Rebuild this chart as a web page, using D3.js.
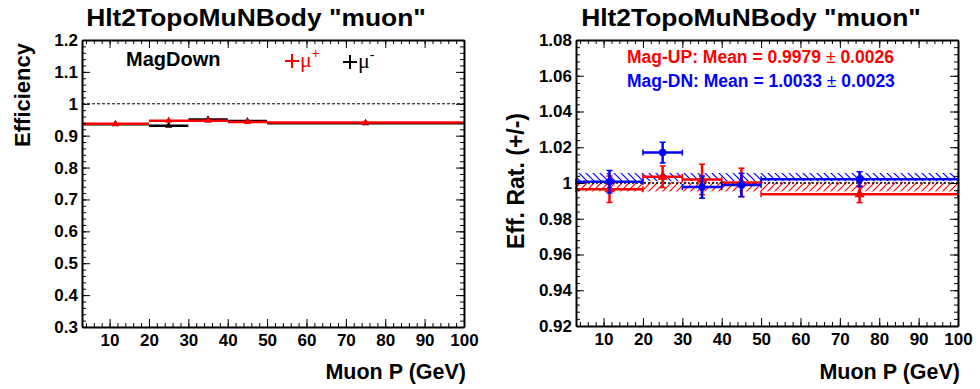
<!DOCTYPE html>
<html>
<head>
<meta charset="utf-8">
<script src="https://cdn.jsdelivr.net/npm/d3@7"></script>
<style>
  body { margin: 0; background: #fff; }
  svg { display: block; font-family: "Liberation Sans", Arial, Helvetica, sans-serif; }
  .axis path { stroke: #000; stroke-width: 2; }
  .axis line { stroke: #000; stroke-width: 1; }
  .axis text { font-size: 17px; font-weight: bold; fill: #000; }
</style>
</head>
<body>
<svg width="980" height="389"></svg>
<script>
// bins in muon momentum (GeV)
var binLo = [3, 20, 30, 40, 50],
    binHi = [20, 30, 40, 50, 100],
    binMid = [11.5, 25, 35, 45, 75];

// left pad: efficiency, MagDown
var effPlus = [0.937, 0.947, 0.947, 0.943, 0.941],
    effPlusErr = [0.002, 0.002, 0.002, 0.002, 0.001],
    effMinus = [0.936, 0.931, 0.951, 0.946, 0.939],
    effMinusErr = [0.002, 0.002, 0.002, 0.002, 0.001];

// right pad: efficiency ratio (+/-)
var ratioUp = [0.9965, 1.0035, 1.0020, 1.0003, 0.9937],
    ratioUpErr = [0.0074, 0.0060, 0.0085, 0.0080, 0.0047],
    ratioDn = [1.0007, 1.0170, 0.9977, 0.9989, 1.0021],
    ratioDnErr = [0.0063, 0.0058, 0.0062, 0.0065, 0.0042];

var meanUp = 0.9979, meanUpErr = 0.0026,
    meanDn = 1.0033, meanDnErr = 0.0023;

var xMajor = [10, 20, 30, 40, 50, 60, 70, 80, 90, 100],
    effTicks = [0.3, 0.4, 0.5, 0.6, 0.7, 0.8, 0.9, 1, 1.1, 1.2],
    ratioTicks = [0.92, 0.94, 0.96, 0.98, 1, 1.02, 1.04, 1.06, 1.08];

var svg = d3.select("svg");

var defs = svg.append("defs");
function hatch(id, color, dir) {
    var p = defs.append("pattern")
        .attr("id", id)
        .attr("patternUnits", "userSpaceOnUse")
        .attr("width", 7).attr("height", 7);
    p.append("path")
        .attr("d", dir > 0 ? "M0,7L7,0M-1,1L1,-1M6,8L8,6" : "M0,0L7,7M-1,6L1,8M6,-1L8,1")
        .attr("stroke", color).attr("stroke-width", 1.2);
}
hatch("hatchRed", "#ff0000", 1);
hatch("hatchBlue", "#0000ff", -1);

function range(a, b, s) {
    var out = [];
    for (var v = a; v <= b + s / 1000; v += s) out.push(+v.toFixed(4));
    return out;
}

function frame(x, y, yMajor, yMinorStep, yFmt) {
    var x0 = x.range()[0], x1 = x.range()[1],
        y0 = y.range()[0], y1 = y.range()[1];
    var g = svg.append("g");
    var xMinor = range(4, 100, 2), yMinor = range(y.domain()[0], y.domain()[1], yMinorStep);

    // bottom
    g.append("g").attr("class", "axis")
        .attr("transform", "translate(0," + y0 + ")")
        .call(d3.axisBottom(x).tickValues(xMinor).tickSize(-4).tickSizeOuter(0).tickFormat(""));
    g.append("g").attr("class", "axis")
        .attr("transform", "translate(0," + y0 + ")")
        .call(d3.axisBottom(x).tickValues(xMajor).tickSize(-8).tickSizeOuter(0).tickPadding(7).tickFormat(d3.format("d")))
        .select(".domain").remove();
    // top
    g.append("g").attr("class", "axis")
        .attr("transform", "translate(0," + y1 + ")")
        .call(d3.axisTop(x).tickValues(xMinor).tickSize(-4).tickSizeOuter(0).tickFormat(""));
    g.append("g").attr("class", "axis")
        .attr("transform", "translate(0," + y1 + ")")
        .call(d3.axisTop(x).tickValues(xMajor).tickSize(-8).tickSizeOuter(0).tickFormat(""))
        .select(".domain").remove();
    // left
    g.append("g").attr("class", "axis")
        .attr("transform", "translate(" + x0 + ",0)")
        .call(d3.axisLeft(y).tickValues(yMinor).tickSize(-4).tickSizeOuter(0).tickFormat(""));
    g.append("g").attr("class", "axis")
        .attr("transform", "translate(" + x0 + ",0)")
        .call(d3.axisLeft(y).tickValues(yMajor).tickSize(-8).tickSizeOuter(0).tickPadding(4).tickFormat(yFmt))
        .select(".domain").remove();
    // right
    g.append("g").attr("class", "axis")
        .attr("transform", "translate(" + x1 + ",0)")
        .call(d3.axisRight(y).tickValues(yMinor).tickSize(-4).tickSizeOuter(0).tickFormat(""));
    g.append("g").attr("class", "axis")
        .attr("transform", "translate(" + x1 + ",0)")
        .call(d3.axisRight(y).tickValues(yMajor).tickSize(-8).tickSizeOuter(0).tickFormat(""))
        .select(".domain").remove();
    return g;
}

function points(g, x, y, vals, errs, color, marker, size, lw, caps) {
    var d = vals.map(function (v, i) { return { lo: binLo[i], hi: binHi[i], mid: binMid[i], v: v, e: errs[i] }; });
    var s = g.append("g").attr("stroke", color).attr("fill", color);
    s.selectAll(".h").data(d).enter().append("line")
        .attr("x1", function (p) { return x(p.lo); })
        .attr("x2", function (p) { return x(p.hi); })
        .attr("y1", function (p) { return y(p.v); })
        .attr("y2", function (p) { return y(p.v); })
        .attr("stroke-width", lw);
    s.selectAll(".v").data(d).enter().append("line")
        .attr("x1", function (p) { return x(p.mid); })
        .attr("x2", function (p) { return x(p.mid); })
        .attr("y1", function (p) { return y(p.v - p.e); })
        .attr("y2", function (p) { return y(p.v + p.e); })
        .attr("stroke-width", lw);
    if (caps) {
        d.forEach(function (p) {
            [p.lo, p.hi].forEach(function (xv) {
                s.append("line").attr("stroke-width", 1.5)
                    .attr("x1", x(xv)).attr("x2", x(xv))
                    .attr("y1", y(p.v) - 3).attr("y2", y(p.v) + 3);
            });
            [p.v - p.e, p.v + p.e].forEach(function (yv) {
                s.append("line").attr("stroke-width", 1.5)
                    .attr("x1", x(p.mid) - 3).attr("x2", x(p.mid) + 3)
                    .attr("y1", y(yv)).attr("y2", y(yv));
            });
        });
    }
    s.selectAll(".m").data(d).enter().append("path")
        .attr("transform", function (p) { return "translate(" + x(p.mid) + "," + y(p.v) + ")"; })
        .attr("d", d3.symbol().type(marker).size(size))
        .attr("stroke", "none");
}

function titles(cx, x1, yTitle, yText, yX, anchor, ySize) {
    svg.append("text")
        .attr("transform", "translate(" + cx + ",26) scale(1.1,1)")
        .attr("text-anchor", "middle").attr("font-size", 24).attr("font-weight", "bold")
        .text('Hlt2TopoMuNBody "muon"');
    svg.append("text").attr("x", x1).attr("y", 379)
        .attr("text-anchor", "end").attr("font-size", 21.5).attr("font-weight", "bold")
        .text("Muon P (GeV)");
    svg.append("text")
        .attr("transform", "translate(" + yX + "," + yTitle + ") rotate(-90)")
        .attr("text-anchor", anchor).attr("font-size", ySize).attr("font-weight", "bold")
        .text(yText);
}

// ---------- left pad ----------
var xL = d3.scaleLinear().domain([3, 100]).range([82, 464]),
    yL = d3.scaleLinear().domain([0.3, 1.2]).range([327, 40]);

var gL = svg.append("g");
gL.append("line")
    .attr("x1", xL(3)).attr("x2", xL(100)).attr("y1", yL(1)).attr("y2", yL(1))
    .attr("stroke", "#000").attr("stroke-width", 1).attr("stroke-dasharray", "3,2");
points(gL, xL, yL, effMinus, effMinusErr, "#000", d3.symbolTriangle, 22, 2.5, false);
points(gL, xL, yL, effPlus, effPlusErr, "#ff0000", d3.symbolTriangle, 22, 2.5, false);
frame(xL, yL, effTicks, 0.02, function (d) { return d3.format("")(d); });
titles(256, 466, 43, "Efficiency", 30, "end", 22);

svg.append("text").attr("x", 126).attr("y", 66)
    .attr("font-size", 20).attr("font-weight", "bold").text("MagDown");

function legendCross(cx, cy, color, sup) {
    var lg = svg.append("g").attr("stroke", color).attr("stroke-width", 2);
    lg.append("line").attr("x1", cx - 7).attr("x2", cx + 7).attr("y1", cy).attr("y2", cy);
    lg.append("line").attr("x1", cx).attr("x2", cx).attr("y1", cy - 7).attr("y2", cy + 7);
    var t = svg.append("text").attr("x", cx + 8).attr("y", cy + 6)
        .attr("fill", color).attr("font-family", "'Liberation Serif', 'DejaVu Serif', serif").attr("font-size", 22)
        .text("\u03bc");
    t.append("tspan").attr("dy", -9).attr("font-size", 14).attr("font-weight", sup == "+" ? "bold" : "normal").text(sup);
}
legendCross(292, 61, "#ff0000", "+");
legendCross(350, 62, "#000", "-");

// ---------- right pad ----------
var xR = d3.scaleLinear().domain([3, 100]).range([576, 958]),
    yR = d3.scaleLinear().domain([0.92, 1.08]).range([326, 40]);

var gR = svg.append("g");
gR.append("rect")
    .attr("x", xR(3)).attr("width", xR(100) - xR(3))
    .attr("y", yR(meanDn + meanDnErr)).attr("height", yR(meanDn - meanDnErr) - yR(meanDn + meanDnErr))
    .attr("fill", "url(#hatchBlue)");
gR.append("rect")
    .attr("x", xR(3)).attr("width", xR(100) - xR(3))
    .attr("y", yR(meanUp + meanUpErr)).attr("height", yR(meanUp - meanUpErr) - yR(meanUp + meanUpErr))
    .attr("fill", "url(#hatchRed)");
gR.append("line")
    .attr("x1", xR(3)).attr("x2", xR(100)).attr("y1", yR(1)).attr("y2", yR(1))
    .attr("stroke", "#000").attr("stroke-width", 1.5).attr("stroke-dasharray", "2,2");
points(gR, xR, yR, ratioUp, ratioUpErr, "#ff0000", d3.symbolTriangle, 45, 2.5, true);
points(gR, xR, yR, ratioDn, ratioDnErr, "#0000ff", d3.symbolCircle, 45, 2.5, true);
frame(xR, yR, ratioTicks, 0.004, function (d) { return d === 1 ? "1" : d3.format(".2f")(d); });
titles(751, 960, 181, "Eff. Rat. (+/-)", 524, "middle", 23);

function meanText(y, color, label, mean, err) {
    var t = svg.append("text").attr("x", 627).attr("y", y)
        .attr("fill", color).attr("font-size", 17.5).attr("font-weight", "bold");
    t.append("tspan").text(label + ": Mean = " + mean.toFixed(4) + " ");
    t.append("tspan").attr("font-weight", "normal").text("\u00b1");
    t.append("tspan").text(" " + err.toFixed(4));
}
meanText(63, "#ff0000", "Mag-UP", meanUp, meanUpErr);
meanText(87, "#0000ff", "Mag-DN", meanDn, meanDnErr);
</script>
</body>
</html>
